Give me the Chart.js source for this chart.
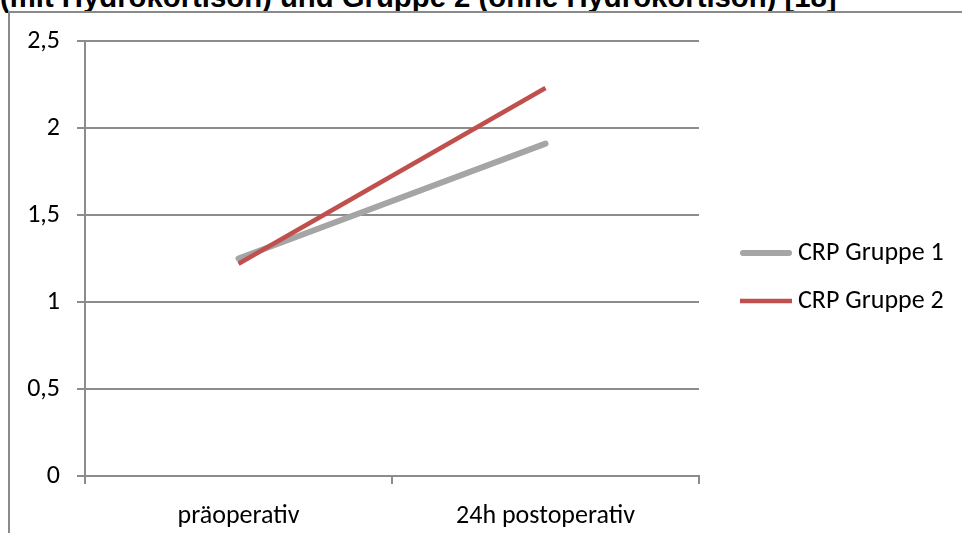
<!DOCTYPE html>
<html>
<head>
<meta charset="utf-8">
<script src="https://cdn.jsdelivr.net/npm/chart.js@4.4.1/dist/chart.umd.min.js"></script>
<style>
  html, body { margin: 0; padding: 0; background: #fff; overflow: hidden; }
  #title {
    position: absolute; left: 0; top: -18px;
    font: bold 29.3px "Liberation Sans", Arial, sans-serif;
    line-height: 30px; white-space: nowrap; color: #000;
  }
  #frame {
    position: absolute; left: 8px; top: 11px; width: 1200px; height: 800px;
    border-left: 2px solid #8a8a8a; border-top: 2px solid #8a8a8a;
  }
  #chart { position: absolute; left: 0; top: 0; }
</style>
</head>
<body>
<div id="title">(mit Hydrokortison) und Gruppe 2 (ohne Hydrokortison) [18]</div>
<div id="frame"></div>
<canvas id="chart" width="962" height="533"></canvas>
<script>
/* ---------------- DATA ---------------- */
const categories = ["präoperativ", "24h postoperativ"];
const seriesLabels = ["CRP Gruppe 1", "CRP Gruppe 2"];
const gruppe1 = [1.25, 1.91];
const gruppe2 = [1.22, 2.23];
const yMin = 0;
const yMax = 2.5;
const yStep = 0.5;

const labelFont = { family: "Carlito, Lato, sans-serif", size: 26 };
const axisGray = "#8c8c8c";

// legend drawn to the right of the plot, like the original
const sideLegend = {
  id: "sideLegend",
  afterDraw(chart) {
    const ctx = chart.ctx;
    const x0 = 740, x1 = 792, yStart = 253, gap = 48;
    ctx.save();
    chart.data.datasets.forEach((ds, i) => {
      const y = yStart + i * gap;
      ctx.strokeStyle = ds.borderColor;
      ctx.lineWidth = ds.borderWidth;
      ctx.lineCap = ds.borderCapStyle;
      ctx.beginPath();
      ctx.moveTo(x0 + (ds.borderCapStyle === "round" ? 3 : 0), y);
      ctx.lineTo(x1 - (ds.borderCapStyle === "round" ? 3 : 0), y);
      ctx.stroke();
      ctx.fillStyle = "#000";
      ctx.font = labelFont.size + "px " + labelFont.family;
      ctx.textBaseline = "middle";
      ctx.textAlign = "left";
      ctx.fillText(ds.label, 798, y);
    });
    ctx.restore();
  },
};

new Chart(document.getElementById("chart"), {
  type: "line",
  data: {
    labels: categories,
    datasets: [
      {
        label: seriesLabels[0],
        data: gruppe1,
        borderColor: "#a5a5a5",
        borderWidth: 6,
        borderCapStyle: "round",
        pointRadius: 0,
        order: 1,
      },
      {
        label: seriesLabels[1],
        data: gruppe2,
        borderColor: "#c0504d",
        borderWidth: 4.5,
        borderCapStyle: "butt",
        pointRadius: 0,
        order: 0,
      },
    ],
  },
  options: {
    responsive: false,
    animation: false,
    layout: { padding: { top: 41, right: 263, bottom: 0, left: 0 } },
    plugins: { legend: { display: false }, tooltip: { enabled: false } },
    scales: {
      x: {
        offset: true,
        ticks: { color: "#000", font: labelFont, padding: 17, maxRotation: 0 },
        grid: { drawOnChartArea: false, offset: true, color: axisGray, lineWidth: 2, tickLength: 8 },
        border: { color: axisGray, width: 2 },
        afterFit(scale) { scale.height = 57; },
      },
      y: {
        min: yMin,
        max: yMax,
        ticks: {
          stepSize: yStep,
          color: "#000",
          font: labelFont,
          padding: 17,
          callback: (v) => v.toLocaleString("de-DE"),
        },
        grid: { color: axisGray, lineWidth: 2, tickLength: 8 },
        border: { color: axisGray, width: 2 },
        afterFit(scale) { scale.width = 85; },
      },
    },
  },
  plugins: [sideLegend],
});
</script>
</body>
</html>
